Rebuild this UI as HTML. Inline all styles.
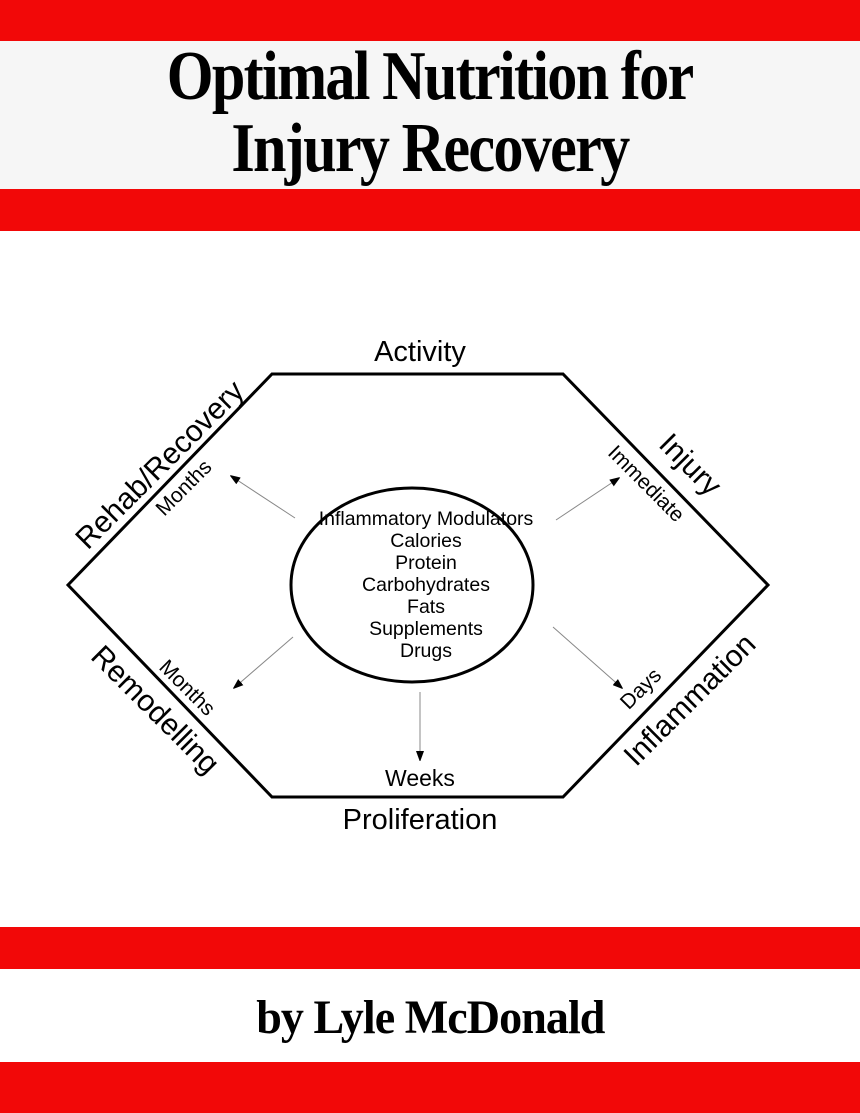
<!DOCTYPE html>
<html><head><meta charset="utf-8"><style>
html,body{margin:0;padding:0;background:#fff}
body{width:860px;height:1113px;position:relative;overflow:hidden}
.band{position:absolute;left:0;width:860px}
.t{position:absolute;left:0;width:860px;text-align:center;font-family:"Liberation Serif",serif;font-weight:bold;color:#000;white-space:nowrap}
.t span{display:inline-block;transform-origin:center}
svg{position:absolute;left:0;top:0}
</style></head><body>
<div class="band" style="top:0;height:41px;background:#f20808"></div>
<div class="band" style="top:41px;height:148px;background:#f6f6f6"></div>
<div class="band" style="top:189px;height:42px;background:#f20808"></div>
<div class="band" style="top:927px;height:42px;background:#f20808"></div>
<div class="band" style="top:1062px;height:51px;background:#f20808"></div>
<div class="t" style="top:37px;font-size:70px;line-height:80px;letter-spacing:-2px"><span style="transform:scaleX(0.86)">Optimal Nutrition for</span></div>
<div class="t" style="top:109px;font-size:70px;line-height:80px;letter-spacing:-2px"><span style="transform:scaleX(0.86)">Injury Recovery</span></div>
<div class="t" style="top:990px;font-size:48px;line-height:56px;letter-spacing:-1px"><span style="transform:scaleX(0.96)">by Lyle McDonald</span></div>
<svg width="860" height="1113" viewBox="0 0 860 1113" font-family="Liberation Sans, sans-serif">
<defs><marker id="a" markerWidth="10" markerHeight="8" refX="9" refY="4" orient="auto" markerUnits="userSpaceOnUse"><path d="M0,0 L11,4 L0,8 z" fill="#000"/></marker></defs>
<polygon points="272,374 563,374 768,585 563,797 272,797 68,585" fill="none" stroke="#000" stroke-width="3"/>
<ellipse cx="412" cy="585" rx="121" ry="97" fill="none" stroke="#000" stroke-width="3"/>
<g stroke="#888" stroke-width="1" marker-end="url(#a)">
<line x1="556" y1="520" x2="619" y2="478"/>
<line x1="295" y1="518" x2="231" y2="476"/>
<line x1="293" y1="637" x2="234" y2="688"/>
<line x1="553" y1="627" x2="622" y2="688"/>
<line x1="420" y1="692" x2="420" y2="760"/>
</g>
<g font-size="19.5" text-anchor="middle" fill="#000">
<text x="426" y="525">Inflammatory Modulators</text>
<text x="426" y="547">Calories</text>
<text x="426" y="569">Protein</text>
<text x="426" y="591">Carbohydrates</text>
<text x="426" y="613">Fats</text>
<text x="426" y="635">Supplements</text>
<text x="426" y="657">Drugs</text>
</g>
<g text-anchor="middle" fill="#000" dominant-baseline="central">
<text x="420" y="352" font-size="29">Activity</text>
<text x="420" y="820" font-size="29">Proliferation</text>
<text x="420" y="778" font-size="23">Weeks</text>
<text x="690" y="465" font-size="30" transform="rotate(45 690 465)">Injury</text>
<text x="646" y="484" font-size="21" transform="rotate(45 646 484)">Immediate</text>
<text x="690" y="700" font-size="30" transform="rotate(-45 690 700)">Inflammation</text>
<text x="641" y="689" font-size="21" transform="rotate(-45 641 689)">Days</text>
<text x="160" y="465" font-size="30" transform="rotate(-45 160 465)">Rehab/Recovery</text>
<text x="184" y="488" font-size="21" transform="rotate(-45 184 488)">Months</text>
<text x="155" y="710" font-size="30" transform="rotate(45 155 710)">Remodelling</text>
<text x="187" y="688" font-size="21" transform="rotate(45 187 688)">Months</text>
</g>
</svg>
</body></html>
